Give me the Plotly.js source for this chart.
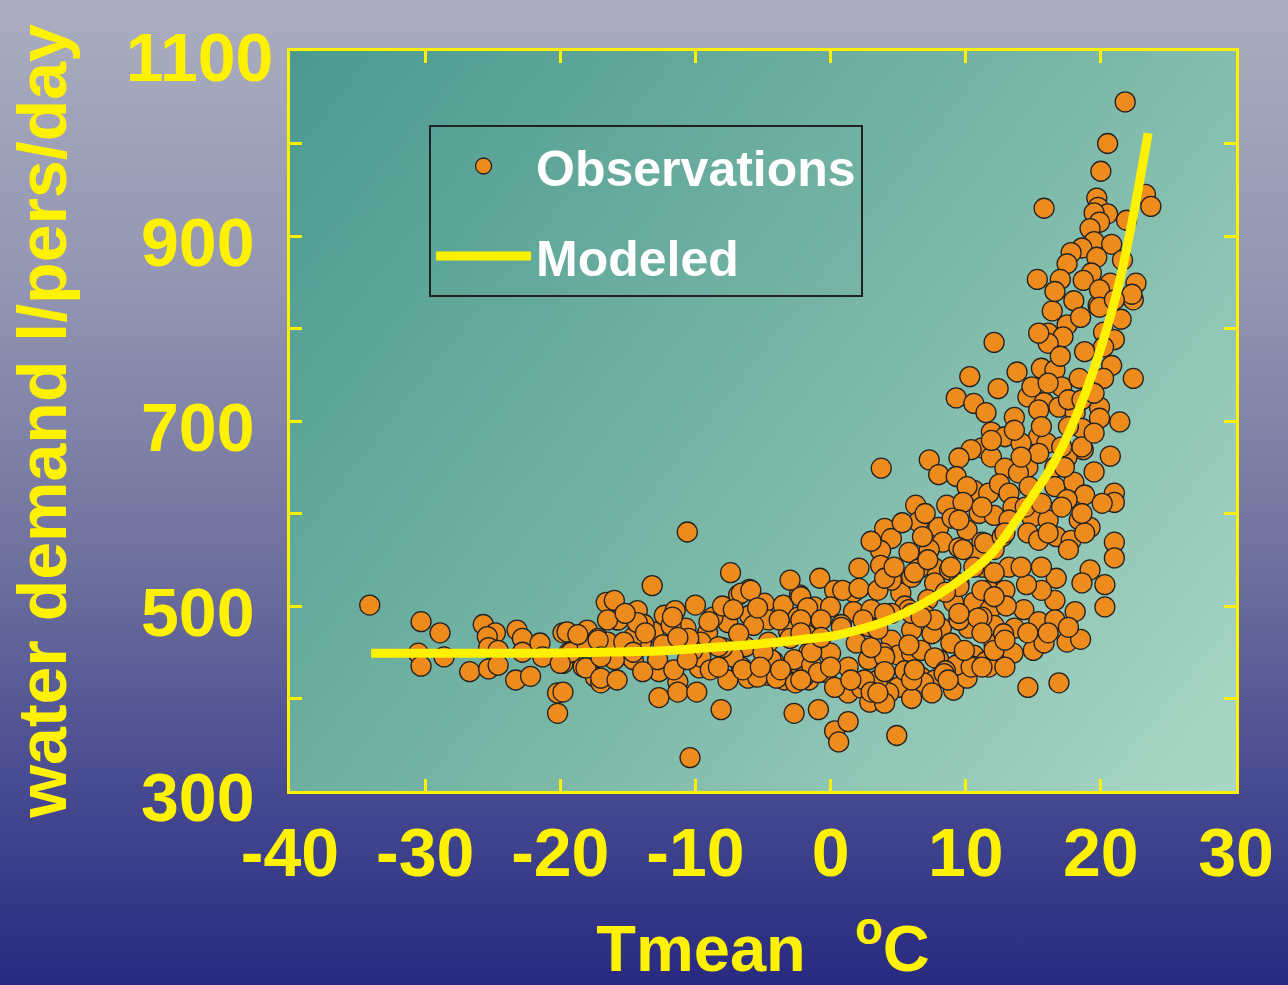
<!DOCTYPE html>
<html>
<head>
<meta charset="utf-8">
<script src="https://cdn.plot.ly/plotly-3.0.1.min.js"></script>
<style>
html, body { margin: 0; padding: 0; }
body {
  width: 1288px; height: 985px; overflow: hidden;
  background: linear-gradient(to bottom, #abadbf 0%, #9496b3 28%, #72749f 55%, #474a90 80%, #272a80 100%);
}
#chart { width: 1288px; height: 985px; }
</style>
</head>
<body>
<div id="chart"></div>
<script>
// ---- Observations (Tmean in °C, water demand in l/pers/day) ----
const tempColdSide = [-34.1,-30.3,-28.9,-30.5,-30.3,-28.6,-25.7,-24.8,-25.4,-25.3,-24.6,-26.7,-25.3,-24.6,-23.2,-22.8,-23.3,-22.2,-22.8,-21.5,-21.3,-19.8,-19.8,-20.2,-20.2,-18.0,-17.2,-18.3,-17.4,-17.0,-19.4,-16.6,-19.5,-19.2,-18.0,-20.0,-18.1,-19.8];
const demandColdSide = [501,483,471,449,435,445,480,471,467,455,452,429,432,436,474,465,420,424,450,460,445,471,438,406,384,474,465,434,423,417,449,504,472,450,456,438,433,407];

const tempMidA = [-10.6,-7.4,-13.2,-16.0,-15.8,-13.1,-12.3,-10.0,-10.7,-6.0,-6.8,-6.0,-7.6,-4.9,-3.5,-2.3,-2.4,-0.8,-17.0,-15.8,-12.7,-12.7,-11.3,-11.3,-9.9,-9.7,-8.1,-7.6,-10.4,-6.1,-4.6,-4.2,-3.4,-2.7,-1.6,-0.9,-0.3,-14.0,-14.6,-9.6];
const demandMidA = [580,536,522,506,485,472,490,501,476,518,512,490,482,503,501,512,488,530,422,420,429,401,418,407,407,433,388,420,336,422,425,440,420,384,420,388,428,460,442,445];

const tempMidB = [-8.9,-6.6,-4.4,-2.2,-14.6,-6.6,-5.9,-2.2,-1.2,-15.7,-16.5,-8.7,-8.0,-4.6,-14.3,-11.5,-13.8,-11.8,-9.1,-5.7,-3.1,-1.7,-16.5,-15.3,-12.4,-9.6,-6.3,-4.6,-14.6,-10.2,-7.2,-1.6,-16.0,-12.8,-2.7,-8.0,-5.4,-4.0,-2.6,-10.5];
const demandMidB = [431,434,442,434,466,514,517,510,499,485,485,488,500,485,495,495,480,479,471,479,472,482,461,461,458,461,456,461,450,452,445,450,442,442,442,455,423,422,417,465];

const tempMidC = [-6.8,-5.0,-3.0,-1.0,0.3,1.7,1.7,2.1,4.0,4.5,3.7,6.3,6.5,5.8,3.7,5.2,6.0,4.5,5.0,6.0,5.0,4.3,4.9,6.7,0.3,0.6,1.3,1.3,2.3,2.9,3.5,5.5,0.0,1.3,2.8,3.9,3.75,8.6,10.6,11.7];
const demandMidC = [470,450,465,470,517,515,494,541,584,573,560,609,591,558,544,514,474,463,447,449,412,406,360,423,365,353,375,406,411,396,420,430,449,434,442,449,649,609,625,622];

const tempMidD = [-18.7,-17.2,-14.3,-15.2,-13.7,-11.3,-8.3,-8.3,-6.5,-5.2,-3.7,-2.0,-1.4,-11.6,-13.9,-9.0,-7.2,-5.4,-3.8,-1.8,-10.6,-17.0,-11.7];
const demandMidD = [469,463,482,492,471,466,456,434,431,434,431,423,436,431,429,483,496,498,485,469,442,445,488];

const tempWarmA = [8.0,10.1,8.3,11.2,7.3,9.5,12.1,7.7,8.8,11.2,4.5,6.0,7.7,9.5,0.9,2.1,3.5,-3.0,11.7,10.6,9.1,7.2,3.0,-1.7,0.0,-2.2,-0.7,8.2,10.2,11.7,11.8,12.4,-1.4,1.9,2.8,6.7,8.9,10.6,0.8,4.0];
const demandWarmA = [585,582,569,569,561,563,561,541,539,542,528,531,525,525,517,519,517,528,517,504,504,507,496,498,499,485,485,476,476,477,496,460,450,460,478,452,460,447,480,445];

const tempWarmB = [7.0,8.0,9.5,-0.9,2.5,7.7,9.1,10.1,0.3,3.0,6.9,-2.2,7.3,10.3,9.3,12.1,16.4,19.8,22.4,17.5,16.1,17.2,16.1,20.2,21.0,20.2,20.8,22.4,20.2,15.6,16.6,17.1,18.4,13.8,12.4,14.6,15.8,10.6,11.5,13.6];
const demandWarmB = [490,442,438,428,420,420,409,422,412,407,417,420,658,748,725,785,819,825,831,804,795,791,784,796,788,780,760,746,746,757,755,737,746,753,735,726,720,719,709,704];

const tempWarmC = [11.9,15.4,16.9,18.1,19.9,19.9,21.4,18.6,15.4,16.0,12.9,14.1,11.2,10.4,11.9,9.5,18.7,20.7,17.5,14.6,12.9,13.9,8.0,16.6,19.5,9.3,10.1,12.5,13.2,14.7,16.6,18.0,18.8,21.0,21.0,20.1,17.5,9.8,11.0,12.1];
const demandWarmC = [688,712,715,709,715,703,699,692,683,676,683,676,671,669,661,660,669,662,661,650,649,644,642,650,645,640,629,632,622,629,629,634,620,622,612,611,615,612,600,598];

const tempWarmD = [13.5,14.9,16.1,18.4,19.2,7.0,9.0,5.3,3.0,6.8,10.8,9.8,11.4,12.7,14.6,15.4,16.7,17.8,18.8,17.6,21.0,21.0,19.2,20.3,20.3,18.6,18.1,16.6,16.7,15.6,15.6,14.5,13.2,12.9,14.3,15.4,16.6,12.1,11.2,13.0];
const demandWarmD = [607,596,593,593,585,600,595,590,570,575,555,561,568,575,579,571,575,571,579,561,569,552,539,523,499,525,494,506,530,542,517,523,542,517,496,483,485,479,517,500];

const tempWarmE = [9.5,8.5,6.5,5.5,4.0,5.8,4.5,3.5,7.5,9.5,11.2,13.6,12.1,13.5,15.0,15.8,17.5,18.5,11.5,9.3,7.7,5.8,3.0,4.0,6.0,8.5,10.5,12.8,14.6,16.9];
const demandWarmE = [521,515,540,500,530,496,492,475,470,485,488,476,458,449,452,460,461,464,440,436,444,458,455,395,400,430,435,470,412,417];

const tempWarmF = [-2.2,-0.7,0.8,2.4,4.0,0.0,1.5,4.0,6.2,8.4,10.4,11.7,12.1,9.5,7.7,6.0,10.9,12.1,3.5,6.0,7.5];
const demandWarmF = [471,466,477,485,492,434,420,429,431,427,434,434,452,485,485,492,487,510,406,420,406];

const tempWarmG = [4.7,6.2,7.2,8.9,10.6,12.1,14.1,6.7,9.5,11.2,12.9,14.6,16.1,17.6,9.9,11.2,12.9,8.7,6.2,13.2,14.4,15.6,17.1,11.2,9.5,12.9,16.1,18.6,17.3,15.4,14.1,11.9,13.6,15.6,17.6,17.1,18.6,14.9,16.1,17.6,18.6,19.5,19.5];
const demandWarmG = [542,536,550,542,542,536,542,488,492,471,463,471,471,477,452,434,434,420,431,593,607,611,607,607,593,579,579,600,650,665,661,679,690,694,694,672,672,737,741,723,723,730,687];

const tempHot = [21.8,20.5,20.0,15.8,19.7,19.8,20.5,19.5,23.3,23.7,21.9,19.9,19.2,19.5,20.8,18.6,17.8,19.7,21.6,17.5,19.3,18.7,15.3,17.0,20.7,22.6,22.3,16.6,19.9,19.9,18.0,21.0,18.5,17.0,15.4,21.5,18.8];
const demandHot = [1045,1000,970,930,941,931,924,925,945,932,917,915,908,894,891,887,882,877,874,870,860,852,853,853,849,849,837,840,842,823,830,831,812,770,795,810,775];

// ---- Modeled curve ----
const tempModel = [-34,-28,-22,-17,-12,-8,-4.6,-2,0.3,2,4,6,7.5,9,10.5,12,13,14.1,15,16.1,17,17.6,18.8,19.8,20.8,21.5,22.5,23.5];
const demandModel = [449,449,449,450,452,456,460,464,468,474,483,496,508,522,538,558,577,600,620,644,668,686,728,770,818,858,930,1011];

// ---- Axis ticks ----
const xTickVals = [-40,-30,-20,-10,0,10,20,30];
const xTickText = ['-40','-30','-20','-10','0','10','20','30'];
const yTickVals = [300,500,700,900,1100];
const yTickText = ['300\u2008','500\u2008','700\u2008','900\u2008','1100'];
const yMinorStep = 100;

const tempObs = [].concat(tempColdSide, tempMidA, tempMidB, tempMidC, tempMidD, tempWarmA, tempWarmB, tempWarmC, tempWarmD, tempWarmE, tempWarmF, tempWarmG, tempHot);
const demandObs = [].concat(demandColdSide, demandMidA, demandMidB, demandMidC, demandMidD, demandWarmA, demandWarmB, demandWarmC, demandWarmD, demandWarmE, demandWarmF, demandWarmG, demandHot);

function plotAreaGradient() {
  const c = document.createElement('canvas');
  c.width = 472; c.height = 370;
  const g = c.getContext('2d');
  const lg = g.createLinearGradient(0, 0, 472, 370);
  lg.addColorStop(0, '#4b9a90');
  lg.addColorStop(0.5, '#78b6a6');
  lg.addColorStop(1, '#aad7c5');
  g.fillStyle = lg;
  g.fillRect(0, 0, 472, 370);
  return c.toDataURL('image/png');
}

const YELLOW = '#fff200';
const FONT = 'Liberation Sans, Arial, Helvetica, sans-serif';

const traces = [
  {
    type: 'scatter', mode: 'markers', name: 'Observations', legendgroup: 'obs',
    x: tempObs, y: demandObs,
    marker: { color: '#ee8b1d', size: 20, line: { color: '#222222', width: 1.3 } },
    hoverinfo: 'skip'
  },
  {
    type: 'scatter', mode: 'lines', name: 'Modeled', legendgroup: 'mod',
    x: tempModel, y: demandModel,
    line: { color: YELLOW, width: 9, shape: 'spline', smoothing: 1 },
    hoverinfo: 'skip'
  }
];

const layout = {
  width: 1288, height: 985,
  margin: { l: 290, r: 52, t: 51, b: 194 },
  paper_bgcolor: 'rgba(0,0,0,0)',
  plot_bgcolor: 'rgba(0,0,0,0)',
  showlegend: true,
  legend: {
    x: 0.147, y: 0.9, xanchor: 'left', yanchor: 'top',
    bgcolor: 'rgba(0,0,0,0)', bordercolor: '#222222', borderwidth: 2,
    font: { family: FONT, size: 50, color: '#ffffff', weight: 700 },
    itemwidth: 95, traceorder: 'grouped', tracegroupgap: 22
  },
  images: [{
    source: plotAreaGradient(), xref: 'paper', yref: 'paper',
    x: 0, y: 1, sizex: 1, sizey: 1, xanchor: 'left', yanchor: 'top',
    sizing: 'stretch', layer: 'below'
  }],
  xaxis: {
    range: [-40, 30], tickmode: 'array', tickvals: xTickVals, ticktext: xTickText,
    ticks: 'inside', ticklen: 12, tickwidth: 3, tickcolor: YELLOW,
    showline: true, linecolor: YELLOW, linewidth: 3, mirror: 'ticks',
    showgrid: false, zeroline: false,
    tickfont: { family: FONT, size: 68, color: YELLOW, weight: 700 },
    title: { text: 'Tmean\u00a0\u00a0\u2009<sup>o</sup>C', font: { family: FONT, size: 65, color: YELLOW, weight: 700 }, standoff: 47 }
  },
  yaxis: {
    range: [300, 1100], tickmode: 'array', tickvals: yTickVals, ticktext: yTickText,
    ticks: 'inside', ticklen: 12, tickwidth: 3, tickcolor: YELLOW,
    minor: { tick0: 300, dtick: yMinorStep, ticks: 'inside', ticklen: 12, tickwidth: 3, tickcolor: YELLOW, showgrid: false },
    showline: true, linecolor: YELLOW, linewidth: 3, mirror: 'ticks',
    showgrid: false, zeroline: false, ticklabelshift: 6,
    tickfont: { family: FONT, size: 68, color: YELLOW, weight: 700 },
    title: { text: 'water demand l/pers/day', font: { family: FONT, size: 68, color: YELLOW, weight: 700 }, standoff: 38 }
  }
};

Plotly.newPlot('chart', traces, layout, { displayModeBar: false, staticPlot: true });
</script>
</body>
</html>
